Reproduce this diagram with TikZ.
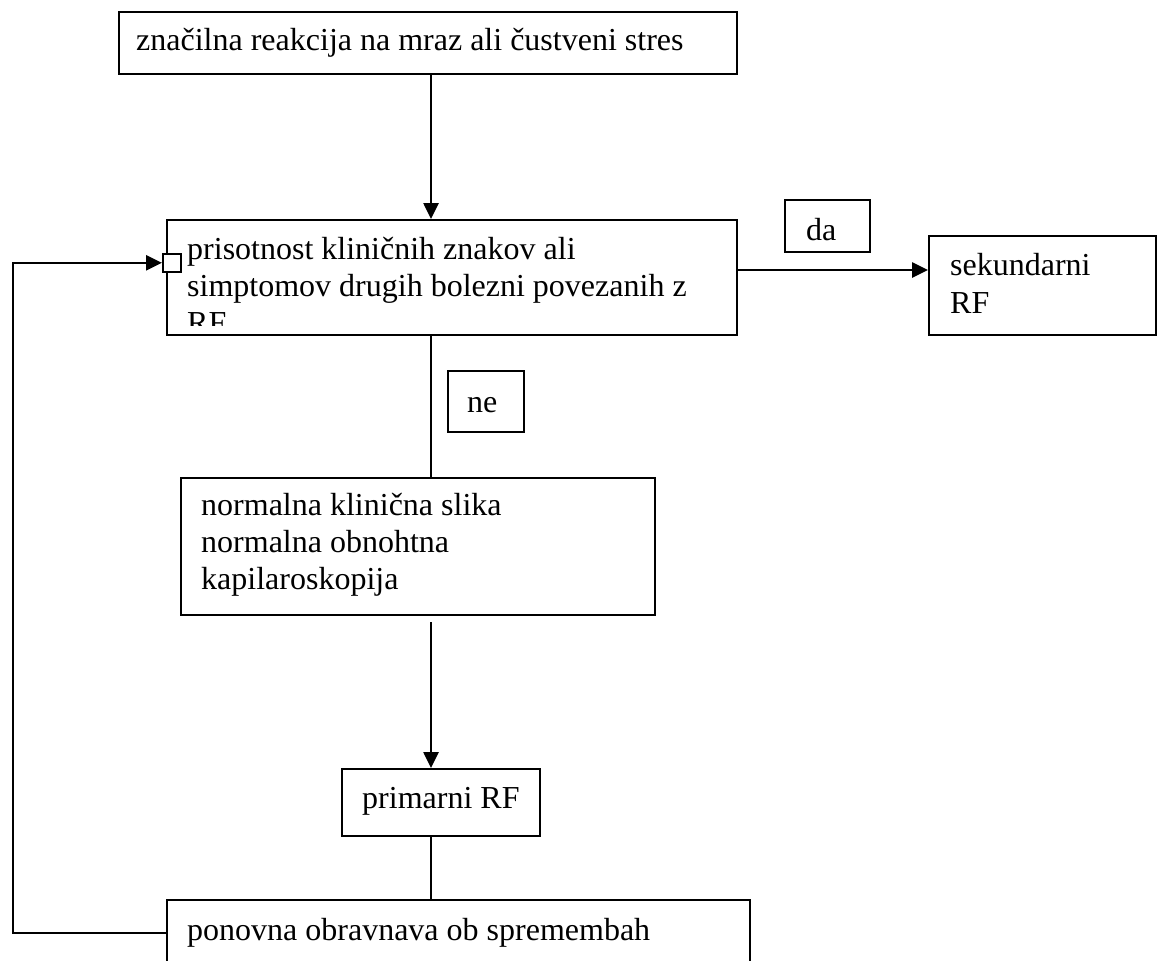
\documentclass[tikz,border=0pt]{standalone}
\usepackage{fontspec}
\setmainfont{Liberation Serif}
\usetikzlibrary{arrows.meta}
\tikzset{
  box/.style={draw, line width=2.2pt, inner sep=0pt, anchor=north west, fill=white},
  txt/.style={inner sep=0pt, anchor=base west, font=\fontsize{32}{37}\selectfont},
  arr/.style={line width=2.6pt, -{Triangle[length=16pt,width=15pt]}},
  ln/.style={line width=2.6pt},
}
\begin{document}
\begin{tikzpicture}[x=1pt,y=-1pt]
\clip (0,0) rectangle (1162,961);
\fill[white] (0,0) rectangle (1162,961);
% helper coordinates
\coordinate (vx) at (431,0);
\coordinate (ry) at (0,270);
\coordinate (loopy) at (0,933);
\coordinate (loopx) at (13,0);
% boxes
\node[box, minimum width=618pt, minimum height=62pt] (b1) at (118,11) {};
\node[box, minimum width=570pt, minimum height=115pt] (b2) at (166,219) {};
\node[box, minimum width=85pt, minimum height=52pt] (da) at (784,199) {};
\node[box, minimum width=227pt, minimum height=99pt] (sek) at (928,235) {};
\node[box, minimum width=76pt, minimum height=61pt] (ne) at (447,370) {};
\node[box, minimum width=474pt, minimum height=137pt] (b3) at (180,477) {};
\node[box, minimum width=198pt, minimum height=67pt] (prim) at (341,768) {};
\node[box, minimum width=583pt, minimum height=120pt] (b5) at (166,899) {};
\node[box, line width=1.6pt, minimum width=18pt, minimum height=18pt] (sq) at (162,253) {};
% texts
\node[txt] (t1) at (136,50) {značilna reakcija na mraz ali čustveni stres};
\begin{scope}
\clip (170,223) rectangle (732,325);
\node[txt] (t2a) at (187,259) {prisotnost kliničnih znakov ali};
\node[txt] (t2b) at (187,296) {simptomov drugih bolezni povezanih z};
\node[txt] (t2c) at (187,333) {RF};
\end{scope}
\node[txt] (tda) at (806,240) {da};
\node[txt] (tsa) at (950,275) {sekundarni};
\node[txt] (tsb) at (950,313) {RF};
\node[txt] (tne) at (467,412) {ne};
\node[txt] (t3a) at (201,515) {normalna klinična slika};
\node[txt] (t3b) at (201,552) {normalna obnohtna};
\node[txt] (t3c) at (201,589) {kapilaroskopija};
\node[txt] (tp) at (362,808) {primarni RF};
\node[txt] (t5) at (187,940) {ponovna obravnava ob spremembah};
% connectors
\draw[arr] (b1.south -| vx) -- (b2.north -| vx);
\draw[arr] (b2.east |- ry) -- (sek.west |- ry);
\draw[ln] (b2.south -| vx) -- (b3.north -| vx);
\draw[arr] ([yshift=-6pt]b3.south -| vx) -- (prim.north -| vx);
\draw[ln] (prim.south -| vx) -- (b5.north -| vx);
\draw[arr] (b5.west |- loopy) -- (loopx |- loopy) -- (loopx |- sq.west) -- (sq.west);
\end{tikzpicture}
\end{document}
